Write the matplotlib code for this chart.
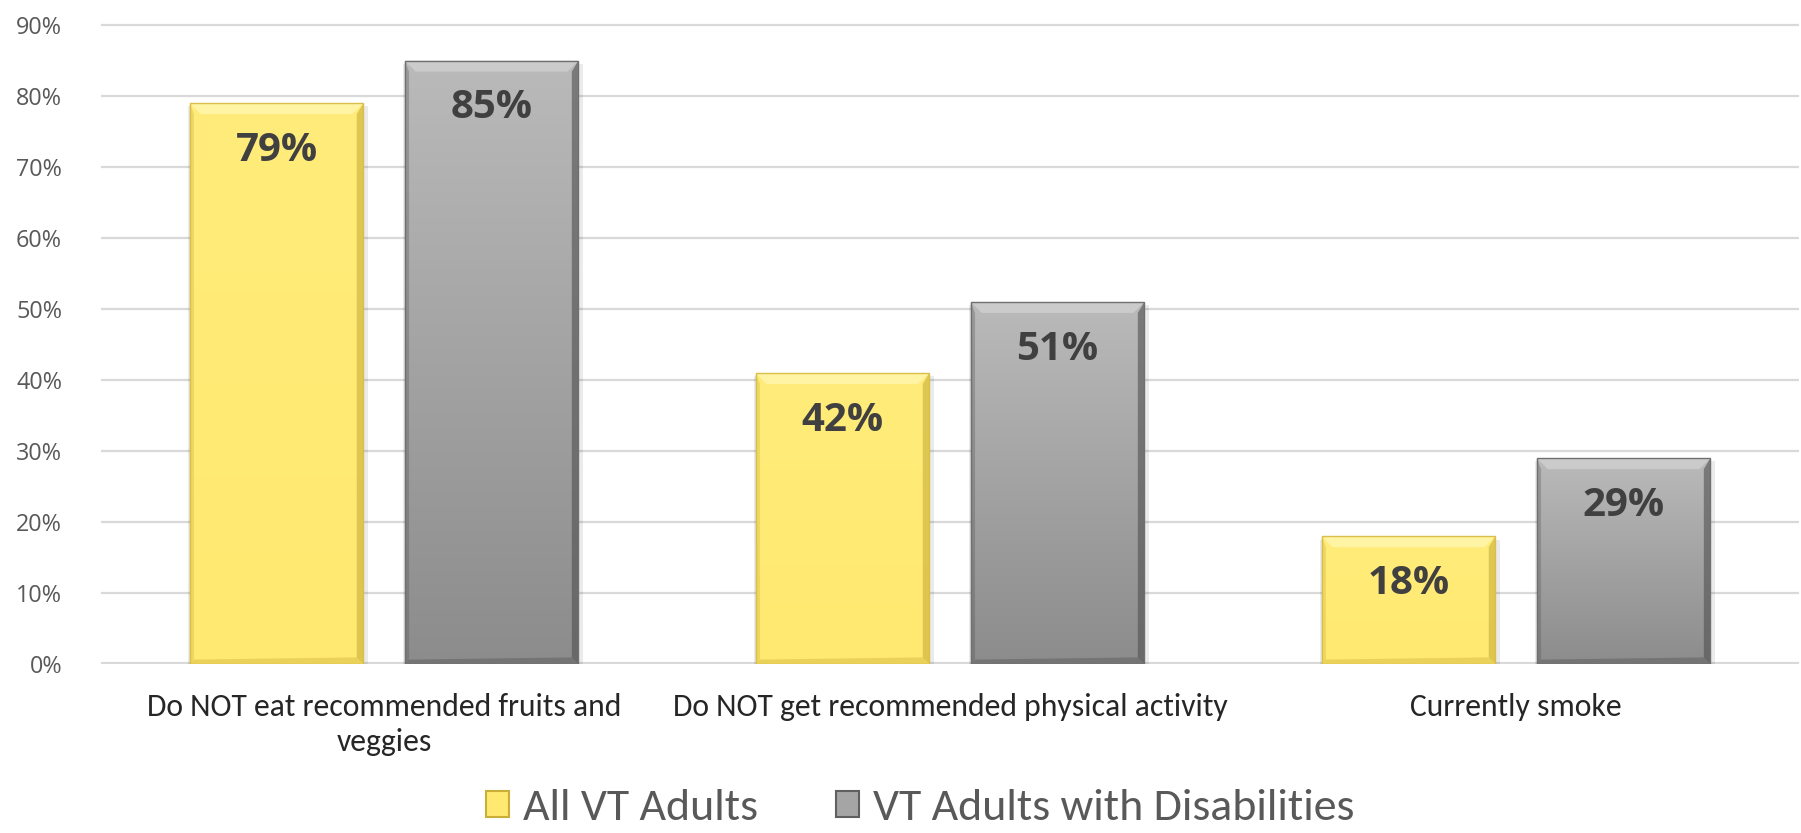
import numpy as np
import matplotlib
matplotlib.use("Agg")
import matplotlib.pyplot as plt
from matplotlib import font_manager
from matplotlib.patches import Polygon, Patch

categories = ["Do NOT eat recommended fruits and\nveggies",
              "Do NOT get recommended physical activity",
              "Currently smoke"]
series_names = ["All VT Adults", "VT Adults with Disabilities"]
all_adults = [79, 41, 18]
all_adults_labels = ["79%", "42%", "18%"]
disabled = [85, 51, 29]
disabled_labels = ["85%", "51%", "29%"]
yticks = [0, 10, 20, 30, 40, 50, 60, 70, 80, 90]

avail = {f.name for f in font_manager.fontManager.ttflist}
def pick(*names):
    for n in names:
        if n in avail:
            return n
    return "DejaVu Sans"
cat_font = pick("Carlito", "Liberation Sans Narrow", "Lato")
tick_font = pick("Open Sans", "Noto Sans")
lab_font = pick("Open Sans", "Noto Sans")

W, H = 1801, 833
fig = plt.figure(figsize=(W/100, H/100), dpi=100)
ax_left = 101/W
ax_right = 1799/W
ax_bottom = 1 - 664/H
ax_top = 1 - 18/H
ax = fig.add_axes([ax_left, ax_bottom, ax_right-ax_left, ax_top-ax_bottom])
ax.set_xlim(-0.5, 2.5)
ax.set_ylim(0, 91)
for s in ax.spines.values():
    s.set_visible(False)
ax.set_yticks(yticks)
ax.set_yticklabels([f"{v}%" for v in yticks], fontfamily=tick_font, fontsize=16.8, color="#595959")
ax.tick_params(axis="y", length=0, pad=28)
ax.tick_params(axis="x", length=0, pad=21)
ax.yaxis.grid(True, color="#D9D9D9", linewidth=1.6)
ax.set_axisbelow(True)
ax.axhline(0, color="#D9D9D9", linewidth=3, zorder=1)

x = np.arange(len(categories))
bw = 0.307
off = 0.19

ax_px_w = (ax_right-ax_left)*W
ax_px_h = (ax_top-ax_bottom)*H
dx = 11 * 3.0 / ax_px_w
dy = 11 * 91.0 / ax_px_h

def draw_bar(xc, h, c_top, c_bot, edge, light, dark):
    bars = ax.bar(xc, h, bw, color="none", edgecolor="none", zorder=2)
    x0, x1 = xc - bw/2, xc + bw/2
    sx = 5 * 3.0 / ax_px_w
    ax.add_patch(Polygon([[x0-sx*0.3, 0], [x1+sx, 0], [x1+sx, h-dy*0.3], [x0-sx*0.3, h-dy*0.3]],
                         closed=True, facecolor="#000000", alpha=0.08, edgecolor="none", zorder=2))
    grad = np.linspace(0, 1, 256).reshape(-1, 1)
    c1 = np.array(matplotlib.colors.to_rgb(c_top))
    c2 = np.array(matplotlib.colors.to_rgb(c_bot))
    img = c1[None, None, :] * (1-grad[:, :, None]) + c2[None, None, :] * grad[:, :, None]
    im = ax.imshow(img, extent=[x0, x1, 0, h], origin="upper", aspect="auto", zorder=3)
    rect = Polygon([[x0, 0], [x1, 0], [x1, h], [x0, h]], closed=True, facecolor="none", edgecolor="none")
    ax.add_patch(rect)
    im.set_clip_path(rect)
    ax.add_patch(Polygon([[x0, h], [x1, h], [x1-dx, h-dy], [x0+dx, h-dy]], closed=True,
                         facecolor=light, edgecolor="none", alpha=0.8, zorder=4))
    ax.add_patch(Polygon([[x1, h], [x1, 0], [x1-dx*0.6, dy*0.6], [x1-dx*0.6, h-dy]], closed=True,
                         facecolor=dark, edgecolor="none", alpha=0.6, zorder=4))
    ax.add_patch(Polygon([[x0, h], [x0, 0], [x0+dx*0.4, dy*0.4], [x0+dx*0.4, h-dy]], closed=True,
                         facecolor=dark, edgecolor="none", alpha=0.3, zorder=4))
    ax.add_patch(Polygon([[x0, 0], [x1, 0], [x1-dx*0.6, dy*0.6], [x0+dx*0.4, dy*0.4]], closed=True,
                         facecolor=dark, edgecolor="none", alpha=0.4, zorder=4))
    ax.add_patch(Polygon([[x0, 0], [x1, 0], [x1, h], [x0, h]], closed=True,
                         facecolor="none", edgecolor=edge, linewidth=1.0, zorder=5))
    return bars

for i in range(len(categories)):
    draw_bar(x[i]-off, all_adults[i], "#FFEC7A", "#FFE970", "#D9BE4A", "#FFF6B0", "#C9AE3A")
    draw_bar(x[i]+off, disabled[i], "#BABABA", "#8C8C8C", "#707070", "#D0D0D0", "#505050")
    ax.annotate(all_adults_labels[i], (x[i]-off, all_adults[i]), xytext=(0, -34), textcoords="offset points",
                ha="center", va="center", fontsize=29, fontweight="bold", fontfamily=lab_font,
                color="#404040", zorder=6)
    ax.annotate(disabled_labels[i], (x[i]+off, disabled[i]), xytext=(0, -34), textcoords="offset points",
                ha="center", va="center", fontsize=29, fontweight="bold", fontfamily=lab_font,
                color="#404040", zorder=6)

ax.set_xticks(x)
ax.set_xticklabels(categories, fontfamily=cat_font, fontsize=22.8, color="#262626", linespacing=1.3)

handles = [Patch(facecolor="#FFE970", edgecolor="#C9AE3A", linewidth=1.5),
           Patch(facecolor="#A5A5A5", edgecolor="#606060", linewidth=1.5)]
leg = fig.legend(handles, series_names, loc="center", bbox_to_anchor=(0.511, 0.03), ncol=2,
                 frameon=False, prop={"family": cat_font, "size": 33}, labelcolor="#595959",
                 handlelength=0.5, handleheight=0.5, handletextpad=0.3, columnspacing=1.7,
                 borderpad=0, borderaxespad=0)

fig.savefig("out.png", dpi=100)
